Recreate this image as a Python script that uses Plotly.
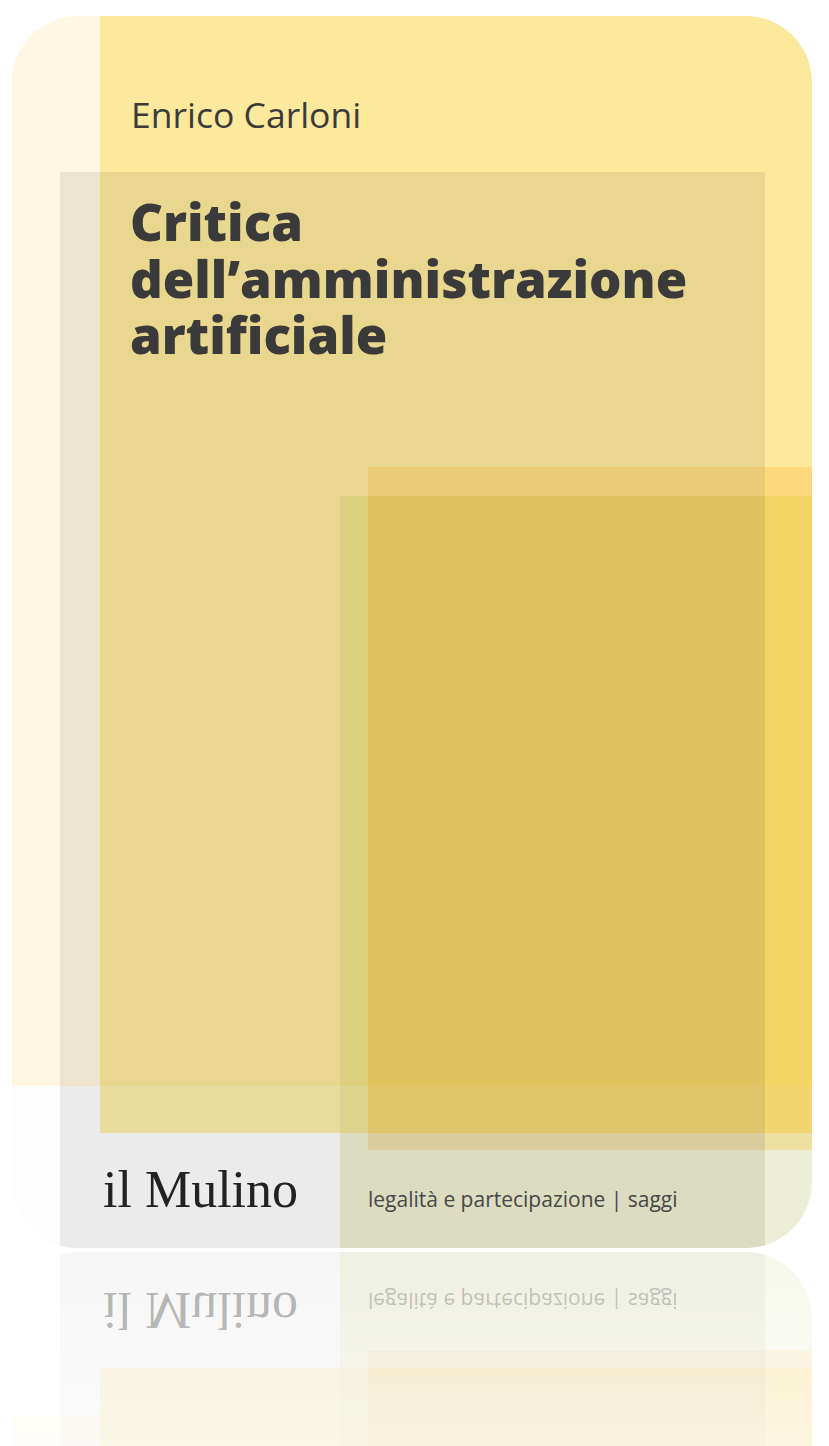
import plotly.graph_objects as go

W, H = 829, 1446

# ---- cover layout data (page pixels) ----
CARD_LEFT, CARD_RIGHT, CARD_TOP, CARD_BOTTOM = 12, 812, 16, 1248
CORNER_R = 66
MIRROR_Y = 1250                 # axis of the glossy reflection
REFLECT_KEEP = (0.45, 0.20)     # share of original colour kept at top / bottom of reflection

# colour blocks painted in order
BLOCK_X0 = [12, 100, 60, 100, 60, 100, 100, 368, 765, 340, 340, 368, 765, 368, 765, 368, 765, 340, 765, 12, 340]
BLOCK_X1 = [100, 812, 100, 765, 100, 340, 340, 765, 812, 368, 368, 765, 812, 765, 812, 765, 812, 765, 812, 60, 368]
BLOCK_Y0 = [16, 16, 172, 172, 1086, 1086, 1133, 467, 467, 496, 1086, 496, 496, 1086, 1086, 1133, 1133, 1150, 1150, 1086, 1133]
BLOCK_Y1 = [1086, 1133, 1086, 1086, 1248, 1133, 1248, 496, 496, 1086, 1133, 1086, 1086, 1133, 1133, 1150, 1150, 1248, 1248, 1248, 1150]
BLOCK_COLOR = ["#FFF7E1", "#FDE99C", "#EDE4CD", "#E9D68F", "#EBEBEB", "#EADB9F", "#EBEBEB",
               "#ECCB76", "#FED87C", "#DDD07C", "#DCD38E", "#E0C35F", "#F3D465",
               "#DFC46A", "#F2D56F", "#D9CD9D", "#EEE0A2", "#DBDCC0", "#ECEFD6", "#FDFDFD", "#DBDCC0"]

AUTHOR = "Enrico Carloni"
TITLE_LINES = ["Critica", "dell’amministrazione", "artificiale"]
PUBLISHER = "il Mulino"
SERIES = "legalità e partecipazione | saggi"


def lighten(hexc, keep):
    hexc = hexc.lstrip("#")
    r, g, b = (int(hexc[i:i + 2], 16) for i in (0, 2, 4))
    f = lambda c: round(255 - (255 - c) * keep)
    return "#%02X%02X%02X" % (f(r), f(g), f(b))


shapes = []
for x0, x1, y0, y1, c in zip(BLOCK_X0, BLOCK_X1, BLOCK_Y0, BLOCK_Y1, BLOCK_COLOR):
    shapes.append(dict(type="rect", xref="x", yref="y", x0=x0, x1=x1, y0=y0, y1=y1,
                       fillcolor=c, line=dict(width=0), layer="below"))

# reflection blocks (mirrored around MIRROR_Y, fading downwards in thin bands)
ref_top = MIRROR_Y + 2
BAND = 8
for x0, x1, y0, y1, c in zip(BLOCK_X0, BLOCK_X1, BLOCK_Y0, BLOCK_Y1, BLOCK_COLOR):
    my0, my1 = 2 * MIRROR_Y - y1, 2 * MIRROR_Y - y0
    my0 = max(my0, ref_top)
    my1 = min(my1, H + 4)
    if my1 <= my0:
        continue
    yb = my0
    while yb < my1:
        ye = min(yb + BAND, my1)
        t = ((yb + ye) / 2 - ref_top) / (H - ref_top)
        keep = REFLECT_KEEP[0] + (REFLECT_KEEP[1] - REFLECT_KEEP[0]) * t
        shapes.append(dict(type="rect", xref="x", yref="y", x0=x0, x1=x1, y0=yb, y1=ye + 0.6,
                           fillcolor=lighten(c, keep), line=dict(width=0), layer="below"))
        yb = ye

K = 0.5523


def corner_mask(cx, cy, sx, sy, r):
    e = 3
    path = f"M {cx - sx * e:.2f},{cy - sy * e:.2f} L {cx + sx * r:.2f},{cy - sy * e:.2f} L {cx + sx * r:.2f},{cy:.2f}"
    c1 = (cx + sx * r * (1 - K), cy)
    c2 = (cx, cy + sy * r * (1 - K))
    b = (cx, cy + sy * r)
    path += f" C {c1[0]:.2f},{c1[1]:.2f} {c2[0]:.2f},{c2[1]:.2f} {b[0]:.2f},{b[1]:.2f}"
    path += f" L {cx - sx * e:.2f},{cy + sy * r:.2f} Z"
    return dict(type="path", xref="x", yref="y", path=path, fillcolor="#FFFFFF",
                line=dict(width=0), layer="below")


shapes += [
    corner_mask(CARD_LEFT, CARD_TOP, 1, 1, CORNER_R),
    corner_mask(CARD_RIGHT, CARD_TOP, -1, 1, CORNER_R),
    corner_mask(CARD_RIGHT, CARD_BOTTOM, -1, -1, CORNER_R),
    corner_mask(CARD_LEFT, CARD_BOTTOM, 1, -1, CORNER_R),
    corner_mask(CARD_LEFT, ref_top, 1, 1, CORNER_R),
    corner_mask(CARD_RIGHT, ref_top, -1, 1, CORNER_R),
]
shapes.append(dict(type="rect", xref="x", yref="y", x0=0, x1=W, y0=CARD_BOTTOM, y1=ref_top,
                   fillcolor="#FFFFFF", line=dict(width=0), layer="below"))

fig = go.Figure()

annotations = []
SANS = "Open Sans"
annotations.append(dict(x=129, y=128 - 0.388 * 35.5, text=AUTHOR, showarrow=False, xanchor="left",
                        yanchor="middle", font=dict(family=SANS, size=35.5, color="#3B3B3B")))

# title: one text block; base size sets the 56.5px line pitch, spans set glyph size
TITLE_GLYPH = 51
title_text = "<br>".join(f'<span style="font-size:{TITLE_GLYPH}px">{t}</span>' for t in TITLE_LINES)
annotations.append(dict(x=128, y=184, text=title_text, showarrow=False, xanchor="left",
                        yanchor="top", align="left",
                        font=dict(family=SANS, size=43.5, color="#3A3A3A", weight=800)))

SER_SIZE = 21
pub_y = 1207 - 0.34 * 52
ser_y = 1207 - 0.388 * SER_SIZE
annotations.append(dict(x=101, y=pub_y, text=PUBLISHER, showarrow=False, xanchor="left",
                        yanchor="middle", font=dict(family="Liberation Serif", size=52, color="#222222")))
annotations.append(dict(x=366, y=ser_y, text=SERIES, showarrow=False, xanchor="left",
                        yanchor="middle", font=dict(family=SANS, size=SER_SIZE, color="#474747")))
# reflected copies (mirrored by the page script)
flip_idx = [len(annotations), len(annotations) + 1]
annotations.append(dict(x=101, y=pub_y, text=PUBLISHER, showarrow=False, xanchor="left",
                        yanchor="middle", font=dict(family="Liberation Serif", size=52,
                                                    color="rgba(60,60,60,0.36)")))
annotations.append(dict(x=366, y=ser_y, text=SERIES, showarrow=False, xanchor="left",
                        yanchor="middle", font=dict(family=SANS, size=SER_SIZE, color="rgba(70,70,70,0.3)")))

fig.update_layout(
    width=W, height=H, margin=dict(l=0, r=0, t=0, b=0),
    paper_bgcolor="#FFFFFF", plot_bgcolor="#FFFFFF",
    xaxis=dict(range=[0, W], visible=False, fixedrange=True),
    yaxis=dict(range=[H, 0], visible=False, fixedrange=True),
    shapes=shapes, annotations=annotations, showlegend=False,
)

post = """
document.body.style.margin='0';
var gd=document.getElementById('{plot_id}');
function flipRefl(){
  %s.forEach(function(i){
    var g=gd.querySelector('g.annotation[data-index="'+i+'"]');
    if(g){g.setAttribute('transform','translate(0,%d) scale(1,-1)');}
  });
}
flipRefl();
gd.on('plotly_afterplot', flipRefl);
""" % (str(flip_idx), 2 * MIRROR_Y)

fig.write_html("out.html", config=dict(displayModeBar=False), post_script=post)
